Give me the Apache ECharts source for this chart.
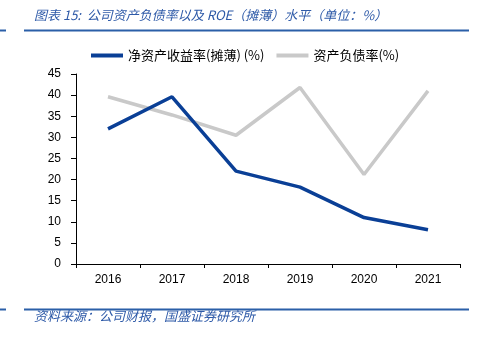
<!DOCTYPE html>
<html>
<head>
<meta charset="utf-8">
<script src="https://cdn.jsdelivr.net/npm/echarts@6/dist/echarts.min.js"></script>
<style>
  html, body { margin: 0; padding: 0; background: #fff; }
  #chart { width: 488px; height: 341px; }
</style>
</head>
<body>
<div id="chart"></div>
<script>
// Years on the category axis
const years = ['2016', '2017', '2018', '2019', '2020', '2021'];
// ROE (diluted), %
const roe = [32.0, 39.6, 22.0, 18.2, 11.0, 8.1];
// Debt-to-asset ratio, %
const debtRatio = [39.6, 35.3, 30.5, 41.8, 21.2, 41.0];
// Series names shown in the legend
const roeName = '净资产收益率(摊薄) (%)';
const debtName = '资产负债率(%)';
// Header and footer texts
const titleText = '图表 15:  公司资产负债率以及 ROE（摊薄）水平（单位：%）';
const sourceText = '资料来源：公司财报，国盛证券研究所';

const BLUE = '#0a3f96';
const GRAY = '#c9c9c9';
const RULE = '#2b5fa8';
const CJK = '"Noto Sans CJK SC", "Noto Sans", sans-serif';
const NUM = '"Liberation Sans", "Noto Sans", sans-serif';

const chart = echarts.init(document.getElementById('chart'), null, { renderer: 'canvas' });

chart.setOption({
  animation: false,
  backgroundColor: '#ffffff',
  graphic: [
    { type: 'text', left: 34, top: 9,
      style: { text: titleText, fill: '#2e5aa8', font: 'italic 13px ' + CJK } },
    { type: 'rect', shape: { x: 24, y: 29.5, width: 445, height: 2 }, style: { fill: RULE } },
    { type: 'rect', shape: { x: 0, y: 29.5, width: 6, height: 2 }, style: { fill: RULE } },
    { type: 'rect', shape: { x: 24, y: 308.5, width: 445, height: 2 }, style: { fill: RULE } },
    { type: 'rect', shape: { x: 0, y: 308.5, width: 6, height: 2 }, style: { fill: RULE } },
    { type: 'text', left: 34, top: 310,
      style: { text: sourceText, fill: '#2e5aa8', font: 'italic 13px ' + CJK } }
  ],
  legend: {
    left: 86, top: 44,
    itemWidth: 32, itemHeight: 4, itemGap: 12,
    icon: 'rect',
    textStyle: { fontFamily: CJK, fontSize: 13, color: '#000' },
    data: [roeName, debtName]
  },
  grid: { left: 76, right: 28, top: 74, bottom: 77 },
  xAxis: {
    type: 'category',
    data: years,
    boundaryGap: true,
    axisLine: { lineStyle: { color: '#000', width: 1 } },
    axisTick: { show: true, alignWithLabel: false, length: 4, lineStyle: { color: '#000' } },
    axisLabel: { color: '#000', fontFamily: NUM, fontSize: 12, margin: 10 },
    splitLine: { show: false }
  },
  yAxis: {
    type: 'value',
    min: 0, max: 45, interval: 5,
    axisLine: { show: true, lineStyle: { color: '#000', width: 1 } },
    axisTick: { show: true, inside: false, length: 5, lineStyle: { color: '#000' } },
    axisLabel: { color: '#000', fontFamily: NUM, fontSize: 12, margin: 15 },
    splitLine: { show: false }
  },
  series: [
    { name: roeName, type: 'line', data: roe, symbol: 'none',
      itemStyle: { color: BLUE }, lineStyle: { color: BLUE, width: 3.5 }, z: 3 },
    { name: debtName, type: 'line', data: debtRatio, symbol: 'none',
      itemStyle: { color: GRAY }, lineStyle: { color: GRAY, width: 3.5 }, z: 2 }
  ]
});
</script>
</body>
</html>
